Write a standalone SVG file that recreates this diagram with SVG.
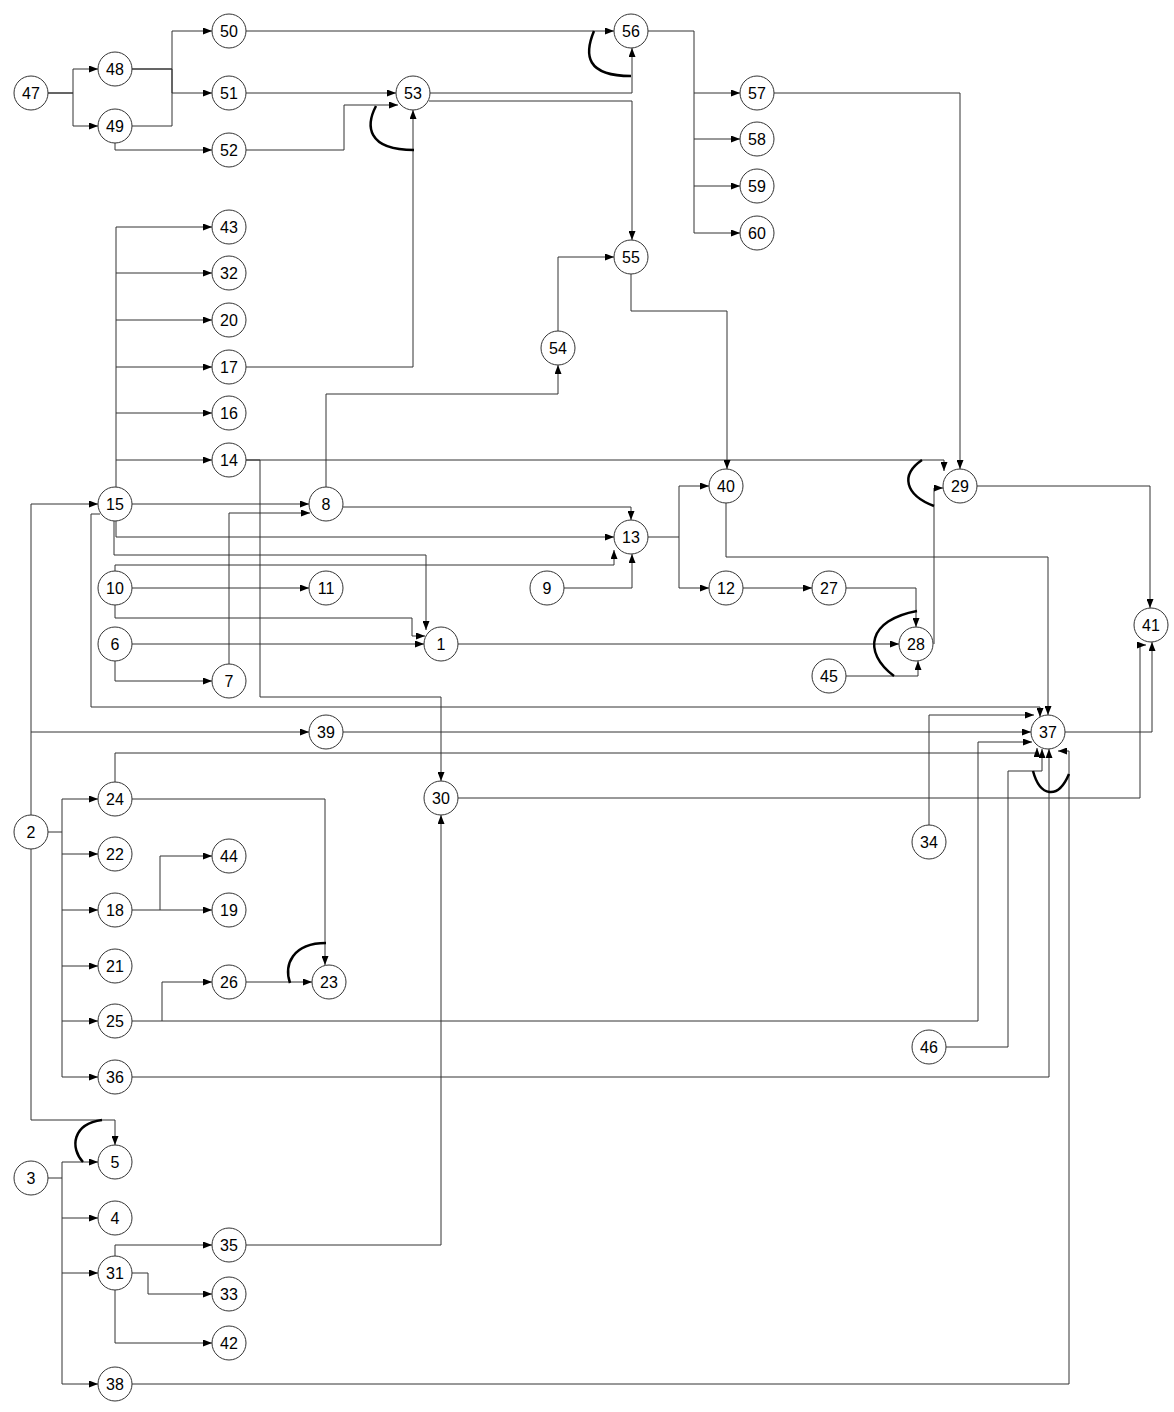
<svg xmlns="http://www.w3.org/2000/svg" width="1174" height="1412" viewBox="0 0 1174 1412">
<style>
.n circle{fill:#fff;stroke:#333;stroke-width:1}
.n text{font-family:"Liberation Sans",Arial,sans-serif;font-size:16px;fill:#000;text-anchor:middle;dominant-baseline:central}
.e path{fill:none;stroke:#333;stroke-width:1}
.e path.a{marker-end:url(#ah)}
.e path.k{stroke:#000;stroke-width:2.5}
</style>
<defs>
<marker id="ah" markerUnits="userSpaceOnUse" markerWidth="9" markerHeight="7" refX="9" refY="3.5" orient="auto">
<path d="M0,0 L9,3.5 L0,7 z" fill="#000"/>
</marker>
</defs>
<rect width="1174" height="1412" fill="#fff"/>
<g id="connectors" class="e">
<!-- top cluster -->
<path class="a" d="M48,93 H73 V69 H98"/>
<path class="a" d="M48,93 H73 V126 H98"/>
<path class="a" d="M132,69 H172 V31 H212"/>
<path class="a" d="M132,69 H172 V93 H212"/>
<path d="M132,126 H172 V69"/>
<path class="a" d="M115,143 V150 H212"/>
<path class="a" d="M246,93 H396"/>
<path class="a" d="M246,150 H344 V105 H398"/>
<path class="a" d="M246,367 H413 V110"/>
<path class="a" d="M246,31 H614"/>
<path class="a" d="M430,93 H632 V48"/>
<path class="a" d="M429,101 H632 V240"/>
<path class="a" d="M648,31 H694 V93 H740"/>
<path class="a" d="M694,93 V139 H740"/>
<path class="a" d="M694,139 V186 H740"/>
<path class="a" d="M694,186 V233 H740"/>
<path class="a" d="M774,93 H960 V469"/>
<!-- 15 fan-out -->
<path class="a" d="M116,487 V227 H212"/>
<path class="a" d="M116,273 H212"/>
<path class="a" d="M116,320 H212"/>
<path class="a" d="M116,367 H212"/>
<path class="a" d="M116,413 H212"/>
<path class="a" d="M116,460 H212"/>
<!-- middle -->
<path class="a" d="M246,460 H944 V471"/>
<path class="a" d="M246,460 H260 V697 H441 V781"/>
<path class="a" d="M132,504 H309"/>
<path class="a" d="M229,664 V513 H310"/>
<path class="a" d="M326,487 V394 H558 V365"/>
<path class="a" d="M558,331 V257 H614"/>
<path class="a" d="M631,274 V311 H727 V469"/>
<path class="a" d="M343,507 H631 V520"/>
<path class="a" d="M116,521 V537 H614"/>
<path class="a" d="M114,521 V555 H426 V630"/>
<path class="a" d="M100,514 H91 V707 H1040 V717"/>
<path class="a" d="M115,571 V565 H614 V550"/>
<path class="a" d="M564,588 H632 V554"/>
<path class="a" d="M132,588 H309"/>
<path class="a" d="M115,605 V618 H412 V636 H425"/>
<path class="a" d="M132,644 H424"/>
<path class="a" d="M115,661 V681 H212"/>
<path class="a" d="M458,644 H899"/>
<path class="a" d="M648,537 H679 V486 H709"/>
<path class="a" d="M679,537 V588 H709"/>
<path class="a" d="M743,588 H812"/>
<path class="a" d="M846,588 H916 V627"/>
<path class="a" d="M846,676 H918 V661"/>
<path class="a" d="M934,644 V488 H943"/>
<path class="a" d="M977,486 H1150 V608"/>
<path class="a" d="M1065,732 H1152 V642"/>
<path class="a" d="M458,798 H1140 V645 H1146"/>
<path class="a" d="M726,503 V557 H1048 V715"/>
<path class="a" d="M343,732 H1031"/>
<path class="a" d="M929,825 V715 H1034"/>
<path class="a" d="M115,782 V753 H1037 V748"/>
<path class="a" d="M132,1021 H978 V742 H1032"/>
<path class="a" d="M946,1047 H1008 V771 H1042 V749"/>
<path class="a" d="M132,1077 H1049 V749"/>
<path class="a" d="M132,1384 H1069 V751 H1058"/>
<!-- lower left -->
<path class="a" d="M132,799 H325 V965"/>
<path class="a" d="M246,982 H312"/>
<path class="a" d="M48,832 H62 V799 H98"/>
<path class="a" d="M62,832 V1077 H98"/>
<path class="a" d="M62,854 H98"/>
<path class="a" d="M62,910 H98"/>
<path class="a" d="M62,966 H98"/>
<path class="a" d="M62,1021 H98"/>
<path class="a" d="M132,910 H160 V856 H212"/>
<path class="a" d="M160,910 H212"/>
<path class="a" d="M162,1021 V982 H212"/>
<path class="a" d="M31,815 V504 H98"/>
<path class="a" d="M31,732 H309"/>
<path class="a" d="M31,849 V1120 H115 V1145"/>
<path class="a" d="M48,1178 H62 V1162 H98"/>
<path class="a" d="M62,1178 V1384 H98"/>
<path class="a" d="M62,1218 H98"/>
<path class="a" d="M62,1273 H98"/>
<path class="a" d="M115,1256 V1245 H212"/>
<path class="a" d="M132,1273 H148 V1294 H212"/>
<path class="a" d="M115,1290 V1343 H212"/>
<path class="a" d="M246,1245 H441 V815"/>
<!-- bold arcs -->
<path class="k" d="M376,106 C366,125 366,150 414,150"/>
<path class="k" d="M594,31 C584,55 586,76 631,76"/>
<path class="k" d="M922,460 C900,475 905,495 934,506"/>
<path class="k" d="M917,611 C868,620 862,652 894,676"/>
<path class="k" d="M1033,771 C1040,797 1058,800 1069,774"/>
<path class="k" d="M326,943 C292,943 284,965 290,983"/>
<path class="k" d="M102,1120 C72,1124 70,1148 83,1162"/>
</g>
<g id="n47" class="n"><circle cx="31" cy="93" r="17"/><text x="31" y="93">47</text></g>
<g id="n48" class="n"><circle cx="115" cy="69" r="17"/><text x="115" y="69">48</text></g>
<g id="n49" class="n"><circle cx="115" cy="126" r="17"/><text x="115" y="126">49</text></g>
<g id="n50" class="n"><circle cx="229" cy="31" r="17"/><text x="229" y="31">50</text></g>
<g id="n51" class="n"><circle cx="229" cy="93" r="17"/><text x="229" y="93">51</text></g>
<g id="n52" class="n"><circle cx="229" cy="150" r="17"/><text x="229" y="150">52</text></g>
<g id="n53" class="n"><circle cx="413" cy="93" r="17"/><text x="413" y="93">53</text></g>
<g id="n56" class="n"><circle cx="631" cy="31" r="17"/><text x="631" y="31">56</text></g>
<g id="n57" class="n"><circle cx="757" cy="93" r="17"/><text x="757" y="93">57</text></g>
<g id="n58" class="n"><circle cx="757" cy="139" r="17"/><text x="757" y="139">58</text></g>
<g id="n59" class="n"><circle cx="757" cy="186" r="17"/><text x="757" y="186">59</text></g>
<g id="n60" class="n"><circle cx="757" cy="233" r="17"/><text x="757" y="233">60</text></g>
<g id="n55" class="n"><circle cx="631" cy="257" r="17"/><text x="631" y="257">55</text></g>
<g id="n54" class="n"><circle cx="558" cy="348" r="17"/><text x="558" y="348">54</text></g>
<g id="n43" class="n"><circle cx="229" cy="227" r="17"/><text x="229" y="227">43</text></g>
<g id="n32" class="n"><circle cx="229" cy="273" r="17"/><text x="229" y="273">32</text></g>
<g id="n20" class="n"><circle cx="229" cy="320" r="17"/><text x="229" y="320">20</text></g>
<g id="n17" class="n"><circle cx="229" cy="367" r="17"/><text x="229" y="367">17</text></g>
<g id="n16" class="n"><circle cx="229" cy="413" r="17"/><text x="229" y="413">16</text></g>
<g id="n14" class="n"><circle cx="229" cy="460" r="17"/><text x="229" y="460">14</text></g>
<g id="n15" class="n"><circle cx="115" cy="504" r="17"/><text x="115" y="504">15</text></g>
<g id="n8" class="n"><circle cx="326" cy="504" r="17"/><text x="326" y="504">8</text></g>
<g id="n40" class="n"><circle cx="726" cy="486" r="17"/><text x="726" y="486">40</text></g>
<g id="n29" class="n"><circle cx="960" cy="486" r="17"/><text x="960" y="486">29</text></g>
<g id="n13" class="n"><circle cx="631" cy="537" r="17"/><text x="631" y="537">13</text></g>
<g id="n10" class="n"><circle cx="115" cy="588" r="17"/><text x="115" y="588">10</text></g>
<g id="n11" class="n"><circle cx="326" cy="588" r="17"/><text x="326" y="588">11</text></g>
<g id="n9" class="n"><circle cx="547" cy="588" r="17"/><text x="547" y="588">9</text></g>
<g id="n12" class="n"><circle cx="726" cy="588" r="17"/><text x="726" y="588">12</text></g>
<g id="n27" class="n"><circle cx="829" cy="588" r="17"/><text x="829" y="588">27</text></g>
<g id="n41" class="n"><circle cx="1151" cy="625" r="17"/><text x="1151" y="625">41</text></g>
<g id="n6" class="n"><circle cx="115" cy="644" r="17"/><text x="115" y="644">6</text></g>
<g id="n1" class="n"><circle cx="441" cy="644" r="17"/><text x="441" y="644">1</text></g>
<g id="n28" class="n"><circle cx="916" cy="644" r="17"/><text x="916" y="644">28</text></g>
<g id="n45" class="n"><circle cx="829" cy="676" r="17"/><text x="829" y="676">45</text></g>
<g id="n7" class="n"><circle cx="229" cy="681" r="17"/><text x="229" y="681">7</text></g>
<g id="n39" class="n"><circle cx="326" cy="732" r="17"/><text x="326" y="732">39</text></g>
<g id="n37" class="n"><circle cx="1048" cy="732" r="17"/><text x="1048" y="732">37</text></g>
<g id="n30" class="n"><circle cx="441" cy="798" r="17"/><text x="441" y="798">30</text></g>
<g id="n24" class="n"><circle cx="115" cy="799" r="17"/><text x="115" y="799">24</text></g>
<g id="n2" class="n"><circle cx="31" cy="832" r="17"/><text x="31" y="832">2</text></g>
<g id="n34" class="n"><circle cx="929" cy="842" r="17"/><text x="929" y="842">34</text></g>
<g id="n22" class="n"><circle cx="115" cy="854" r="17"/><text x="115" y="854">22</text></g>
<g id="n44" class="n"><circle cx="229" cy="856" r="17"/><text x="229" y="856">44</text></g>
<g id="n18" class="n"><circle cx="115" cy="910" r="17"/><text x="115" y="910">18</text></g>
<g id="n19" class="n"><circle cx="229" cy="910" r="17"/><text x="229" y="910">19</text></g>
<g id="n21" class="n"><circle cx="115" cy="966" r="17"/><text x="115" y="966">21</text></g>
<g id="n26" class="n"><circle cx="229" cy="982" r="17"/><text x="229" y="982">26</text></g>
<g id="n23" class="n"><circle cx="329" cy="982" r="17"/><text x="329" y="982">23</text></g>
<g id="n25" class="n"><circle cx="115" cy="1021" r="17"/><text x="115" y="1021">25</text></g>
<g id="n46" class="n"><circle cx="929" cy="1047" r="17"/><text x="929" y="1047">46</text></g>
<g id="n36" class="n"><circle cx="115" cy="1077" r="17"/><text x="115" y="1077">36</text></g>
<g id="n5" class="n"><circle cx="115" cy="1162" r="17"/><text x="115" y="1162">5</text></g>
<g id="n3" class="n"><circle cx="31" cy="1178" r="17"/><text x="31" y="1178">3</text></g>
<g id="n4" class="n"><circle cx="115" cy="1218" r="17"/><text x="115" y="1218">4</text></g>
<g id="n35" class="n"><circle cx="229" cy="1245" r="17"/><text x="229" y="1245">35</text></g>
<g id="n31" class="n"><circle cx="115" cy="1273" r="17"/><text x="115" y="1273">31</text></g>
<g id="n33" class="n"><circle cx="229" cy="1294" r="17"/><text x="229" y="1294">33</text></g>
<g id="n42" class="n"><circle cx="229" cy="1343" r="17"/><text x="229" y="1343">42</text></g>
<g id="n38" class="n"><circle cx="115" cy="1384" r="17"/><text x="115" y="1384">38</text></g>
</svg>
